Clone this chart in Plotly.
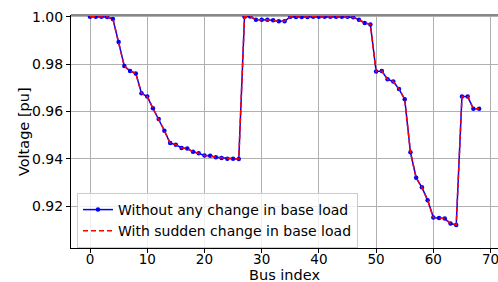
import plotly.graph_objects as go

bus_index = list(range(69))

voltage_base = [
    1.0000, 1.0000, 1.0000, 0.9999, 0.9991, 0.9894, 0.9792, 0.9771, 0.9761, 0.9677,
    0.9663, 0.9614, 0.9569, 0.9519, 0.9467, 0.9460, 0.9446, 0.9444, 0.9430, 0.9424,
    0.9414, 0.9413, 0.9407, 0.9404, 0.9401, 0.9401, 0.9400, 1.0000, 1.0001, 0.9988,
    0.9988, 0.9988, 0.9985, 0.9981, 0.9981, 1.0000, 0.9999, 0.9999, 0.9999, 1.0000,
    1.0000, 1.0000, 1.0000, 1.0000, 1.0000, 1.0000, 0.9998, 0.9988, 0.9974, 0.9968,
    0.9769, 0.9771, 0.9736, 0.9727, 0.9695, 0.9652, 0.9428, 0.9320, 0.9280, 0.9226,
    0.9153, 0.9151, 0.9148, 0.9127, 0.9121, 0.9663, 0.9663, 0.9612, 0.9612,
]

voltage_sudden = [
    1.0000, 1.0000, 1.0000, 0.9999, 0.9991, 0.9894, 0.9792, 0.9771, 0.9761, 0.9677,
    0.9663, 0.9614, 0.9569, 0.9519, 0.9467, 0.9460, 0.9446, 0.9444, 0.9430, 0.9424,
    0.9414, 0.9413, 0.9407, 0.9404, 0.9401, 0.9401, 0.9400, 1.0000, 1.0001, 0.9988,
    0.9988, 0.9988, 0.9985, 0.9981, 0.9981, 1.0000, 0.9999, 0.9999, 0.9999, 1.0000,
    1.0000, 1.0000, 1.0000, 1.0000, 1.0000, 1.0000, 0.9998, 0.9988, 0.9974, 0.9968,
    0.9769, 0.9771, 0.9736, 0.9727, 0.9695, 0.9652, 0.9428, 0.9320, 0.9280, 0.9226,
    0.9153, 0.9151, 0.9148, 0.9127, 0.9121, 0.9663, 0.9663, 0.9612, 0.9612,
]

x_ticks = [0, 10, 20, 30, 40, 50, 60, 70]
y_ticks = [0.92, 0.94, 0.96, 0.98, 1.00]
y_tick_labels = ["0.92", "0.94", "0.96", "0.98", "1.00"]

FONT = "DejaVu Sans"

fig = go.Figure()
fig.add_trace(go.Scatter(
    x=bus_index, y=voltage_base, mode="lines+markers",
    name="Without any change in base load",
    line=dict(color="#0000ff", width=1.5),
    marker=dict(color="#0000ff", size=4.5),
))
fig.add_trace(go.Scatter(
    x=bus_index, y=voltage_sudden, mode="lines",
    name="With sudden change in base load",
    line=dict(color="#ff0000", width=1.5, dash="5px,3px"),
))

fig.update_layout(
    width=498, height=282,
    margin=dict(l=71, r=0, t=15, b=34, autoexpand=False),
    paper_bgcolor="white", plot_bgcolor="white",
    font=dict(family=FONT, size=14, color="#000000"),
    showlegend=True,
    legend=dict(
        x=0.014, y=0.0, xanchor="left", yanchor="bottom",
        bgcolor="rgba(255,255,255,0.8)", bordercolor="#cccccc", borderwidth=1,
        font=dict(family=FONT, size=14, color="#000000"),
        tracegroupgap=0, itemwidth=30,
    ),
    annotations=[
        dict(text="Bus index", xref="paper", yref="paper", x=0.5, y=-0.116,
             xanchor="center", yanchor="middle", showarrow=False,
             font=dict(family=FONT, size=14.5, color="#000000")),
        dict(text="Voltage [pu]", xref="paper", yref="paper", x=-0.111, y=0.5,
             xanchor="center", yanchor="middle", showarrow=False, textangle=-90,
             font=dict(family=FONT, size=14.5, color="#000000")),
    ],
)
fig.update_xaxes(
    range=[-3.32, 71.3], tickmode="array", tickvals=x_ticks,
    showgrid=True, gridcolor="#b0b0b0", gridwidth=1,
    showline=True, linecolor="#000000", linewidth=1, mirror=False,
    ticks="outside", ticklen=4, tickcolor="#000000",
    tickfont=dict(family=FONT, size=13.5), ticklabeloverflow="allow",
    ticklabelstandoff=-5,
    automargin=False, zeroline=False,
)
fig.update_yaxes(
    range=[0.90239, 1.00076], tickmode="array", tickvals=y_ticks, ticktext=y_tick_labels,
    showgrid=True, gridcolor="#b0b0b0", gridwidth=1,
    showline=True, linecolor="#000000", linewidth=1, mirror=False,
    ticks="outside", ticklen=4, tickcolor="#000000",
    tickfont=dict(family=FONT, size=14), ticklabeloverflow="allow",
    automargin=False, zeroline=False,
)
fig.add_shape(type="line", xref="paper", yref="paper", x0=0, x1=1, y0=1, y1=1,
              line=dict(color="#888888", width=2))

fig.write_html(
    "out.html",
    config={"displayModeBar": False},
    post_script="document.body.style.margin='0';document.body.style.padding='0';document.body.style.overflow='hidden';",
)
